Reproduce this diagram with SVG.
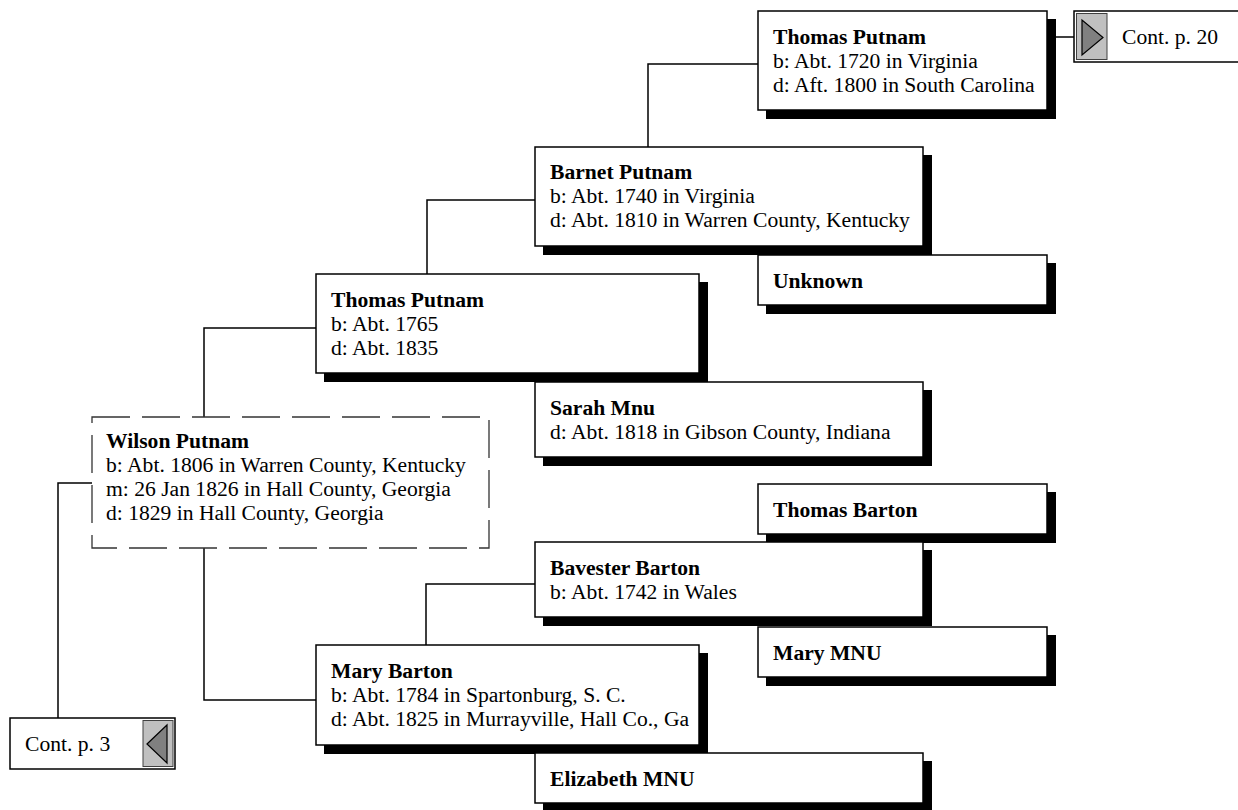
<svg xmlns="http://www.w3.org/2000/svg" width="1238" height="810" viewBox="0 0 1238 810">
<style>
.box{fill:#fff;stroke:#000;stroke-width:1.5}
.dash{fill:#fff;stroke:#333;stroke-width:1.3;stroke-dasharray:38 12}
.sh{fill:#000}
.conn{fill:none;stroke:#000;stroke-width:1.5}
.nm{font-family:"Liberation Serif","Times New Roman",serif;font-size:21.6px;font-weight:bold;fill:#000}
.tx{font-family:"Liberation Serif","Times New Roman",serif;font-size:21.6px;fill:#000}
.btn{fill:#c0c0c0;stroke:#404040;stroke-width:1}
.tri{fill:#808080;stroke:#000;stroke-width:1.2}
</style>
<rect width="1238" height="810" fill="#fff"/>
<g id="connectors">
<path class="conn" d="M648 147V64H758"/>
<path class="conn" d="M427 274V200H535"/>
<path class="conn" d="M204 417V328H316"/>
<path class="conn" d="M204 548V700H316"/>
<path class="conn" d="M426 645V584H535"/>
<path class="conn" d="M92 483H58V718"/>
<path class="conn" d="M1047 37H1074"/>
</g>
<g id="thomas-putnam-1720">
<rect class="sh" x="766" y="19" width="290" height="100"/>
<rect class="box" x="758" y="11" width="289" height="99"/>
<text class="nm" x="773" y="44">Thomas Putnam</text>
<text class="tx" x="773" y="68">b: Abt. 1720 in Virginia</text>
<text class="tx" x="773" y="92">d: Aft. 1800 in South Carolina</text>
</g>
<g id="cont-p20">
<rect class="box" x="1074" y="11" width="166" height="51"/>
<rect class="btn" x="1076.5" y="13.5" width="30.5" height="46"/>
<polygon class="tri" points="1082,20 1082,55 1103,37.5"/>
<text class="tx" x="1122" y="44">Cont. p. 20</text>
</g>
<g id="barnet-putnam">
<rect class="sh" x="543" y="155" width="389" height="100"/>
<rect class="box" x="535" y="147" width="388" height="99"/>
<text class="nm" x="550" y="179">Barnet Putnam</text>
<text class="tx" x="550" y="203">b: Abt. 1740 in Virginia</text>
<text class="tx" x="550" y="227">d: Abt. 1810 in Warren County, Kentucky</text>
</g>
<g id="unknown">
<rect class="sh" x="766" y="263" width="290" height="51"/>
<rect class="box" x="758" y="255" width="289" height="50"/>
<text class="nm" x="773" y="288">Unknown</text>
</g>
<g id="thomas-putnam-1765">
<rect class="sh" x="324" y="282" width="384" height="100"/>
<rect class="box" x="316" y="274" width="383" height="99"/>
<text class="nm" x="331" y="307">Thomas Putnam</text>
<text class="tx" x="331" y="331">b: Abt. 1765</text>
<text class="tx" x="331" y="355">d: Abt. 1835</text>
</g>
<g id="sarah-mnu">
<rect class="sh" x="543" y="390" width="389" height="76"/>
<rect class="box" x="535" y="382" width="388" height="75"/>
<text class="nm" x="550" y="415">Sarah Mnu</text>
<text class="tx" x="550" y="439">d: Abt. 1818 in Gibson County, Indiana</text>
</g>
<g id="wilson-putnam">
<rect class="dash" x="92" y="417" width="397" height="131"/>
<text class="nm" x="106" y="448">Wilson Putnam</text>
<text class="tx" x="106" y="472">b: Abt. 1806 in Warren County, Kentucky</text>
<text class="tx" x="106" y="496">m: 26 Jan 1826 in Hall County, Georgia</text>
<text class="tx" x="106" y="520">d: 1829 in Hall County, Georgia</text>
</g>
<g id="thomas-barton">
<rect class="sh" x="766" y="492" width="290" height="51"/>
<rect class="box" x="758" y="484" width="289" height="50"/>
<text class="nm" x="773" y="517">Thomas Barton</text>
</g>
<g id="bavester-barton">
<rect class="sh" x="543" y="550" width="389" height="76"/>
<rect class="box" x="535" y="542" width="388" height="75"/>
<text class="nm" x="550" y="575">Bavester Barton</text>
<text class="tx" x="550" y="599">b: Abt. 1742 in Wales</text>
</g>
<g id="mary-mnu">
<rect class="sh" x="766" y="635" width="290" height="51"/>
<rect class="box" x="758" y="627" width="289" height="50"/>
<text class="nm" x="773" y="660">Mary MNU</text>
</g>
<g id="mary-barton">
<rect class="sh" x="324" y="653" width="384" height="101"/>
<rect class="box" x="316" y="645" width="383" height="100"/>
<text class="nm" x="331" y="678">Mary Barton</text>
<text class="tx" x="331" y="702">b: Abt. 1784 in Spartonburg, S. C.</text>
<text class="tx" x="331" y="726">d: Abt. 1825 in Murrayville, Hall Co., Ga</text>
</g>
<g id="elizabeth-mnu">
<rect class="sh" x="543" y="761" width="389" height="51"/>
<rect class="box" x="535" y="753" width="388" height="50"/>
<text class="nm" x="550" y="786">Elizabeth MNU</text>
</g>
<g id="cont-p3">
<rect class="box" x="10" y="718" width="165" height="51"/>
<rect class="btn" x="143" y="720.5" width="30" height="46"/>
<polygon class="tri" points="147,744 167,725 167,763"/>
<text class="tx" x="25" y="751">Cont. p. 3</text>
</g>
</svg>
